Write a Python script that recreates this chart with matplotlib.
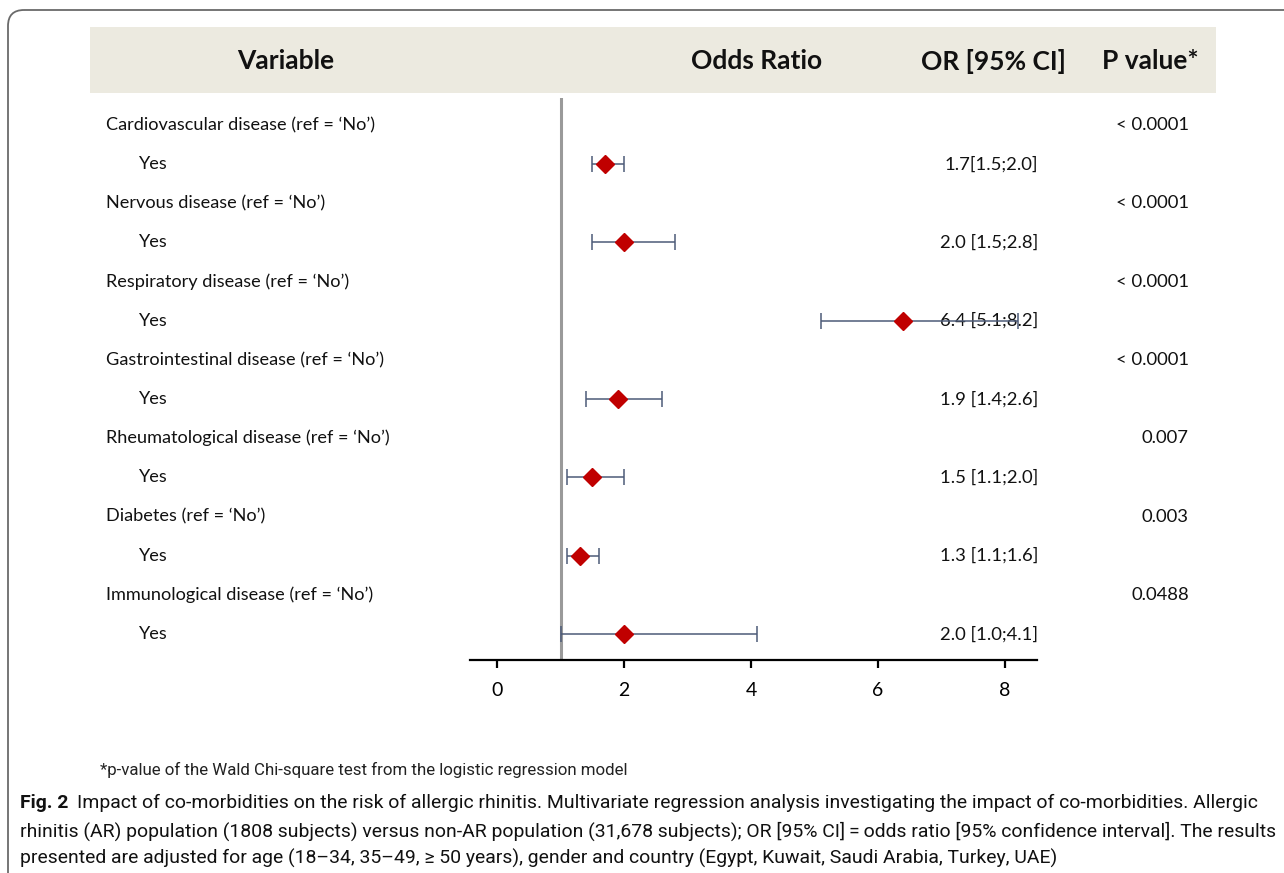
import matplotlib
matplotlib.use("Agg")
import matplotlib.pyplot as plt
from matplotlib.patches import FancyBboxPatch, Rectangle

# Multivariate logistic regression: co-morbidities vs allergic rhinitis
variables = [
    "Cardiovascular disease (ref = \u2018No\u2019)",
    "Nervous disease (ref = \u2018No\u2019)",
    "Respiratory disease (ref = \u2018No\u2019)",
    "Gastrointestinal disease (ref = \u2018No\u2019)",
    "Rheumatological disease (ref = \u2018No\u2019)",
    "Diabetes (ref = \u2018No\u2019)",
    "Immunological disease (ref = \u2018No\u2019)",
]
odds_ratio = [1.7, 2.0, 6.4, 1.9, 1.5, 1.3, 2.0]
ci_low = [1.5, 1.5, 5.1, 1.4, 1.1, 1.1, 1.0]
ci_high = [2.0, 2.8, 8.2, 2.6, 2.0, 1.6, 4.1]
ci_sep = ["", " ", " ", " ", " ", " ", " "]
p_values = ["< 0.0001", "< 0.0001", "< 0.0001", "< 0.0001", "0.007", "0.003", "0.0488"]
x_ticks = [0, 2, 4, 6, 8]
headers = ["Variable", "Odds Ratio", "OR [95% CI]", "P value*"]

footnote = "*p-value of the Wald Chi-square test from the logistic regression model"
fig_label = "Fig. 2"
caption_lines = [
    "Impact of co-morbidities on the risk of allergic rhinitis. Multivariate regression analysis investigating the impact of co-morbidities. Allergic",
    "rhinitis (AR) population (1808 subjects) versus non-AR population (31,678 subjects); OR [95% CI]\u2009=\u2009odds ratio [95% confidence interval]. The results",
    "presented are adjusted for age (18\u201334, 35\u201349, \u2265 50 years), gender and country (Egypt, Kuwait, Saudi Arabia, Turkey, UAE)",
]

W, H = 1284, 873
TABLE_FONT = ["Lato", "DejaVu Sans"]
CAPTION_FONT = ["Roboto", "DejaVu Sans"]
row_y0, row_step = 125, 39.15
TXT = "#111111"

fig = plt.figure(figsize=(W / 100, H / 100), dpi=100)
fig.patch.set_facecolor("white")
renderer = fig.canvas.get_renderer()

# background axes in pixel units for text and decorations
bg = fig.add_axes([0, 0, 1, 1])
bg.set_xlim(0, W)
bg.set_ylim(H, 0)
bg.axis("off")


def text_width(t):
    return t.get_window_extent(renderer).width


bg.add_patch(FancyBboxPatch((8, 10), 1400, 1000, boxstyle="round,pad=0,rounding_size=16",
                            fc="none", ec="#6a6a6a", lw=1.3))
bg.add_patch(Rectangle((90, 27), 1126, 66, fc="#ECEAE0", ec="none"))

header_x = [286, 757, 993, 1150]
for hx, h in zip(header_x, headers):
    bg.text(hx, 61, h, ha="center", va="center", fontsize=19, fontweight="bold",
            family=TABLE_FONT, color=TXT)

for i, name in enumerate(variables):
    y_cat = row_y0 + row_step * (2 * i)
    y_yes = row_y0 + row_step * (2 * i + 1)
    bg.text(106, y_cat, name, ha="left", va="center", fontsize=13.1, family=TABLE_FONT, color=TXT)
    bg.text(1189, y_cat, p_values[i], ha="right", va="center", fontsize=13.3, family=TABLE_FONT, color=TXT)
    bg.text(138, y_yes, "Yes", ha="left", va="center", fontsize=13.1, family=TABLE_FONT, color=TXT)
    ci_text = f"{odds_ratio[i]:.1f}{ci_sep[i]}[{ci_low[i]:.1f};{ci_high[i]:.1f}]"
    bg.text(1038, y_yes, ci_text, ha="right", va="center", fontsize=13.3, family=TABLE_FONT,
            color=TXT, zorder=5)

# footnote: sized to its printed width
fn = bg.text(100, 770, footnote, ha="left", va="center", fontsize=11, family=CAPTION_FONT, color="#222222")
fn.set_fontsize(11 * 529 / text_width(fn))

# caption: one size for all lines, set from the widest line
cap_left = 20
probe = bg.text(cap_left, 831, caption_lines[1], ha="left", va="center", fontsize=12,
                family=CAPTION_FONT, color=TXT)
cap_size = 12 * (1272 - cap_left) / text_width(probe)
probe.set_fontsize(cap_size)
lab = bg.text(cap_left, 803, fig_label, ha="left", va="center", fontsize=cap_size,
              fontweight="bold", family=CAPTION_FONT, color=TXT)
bg.text(cap_left + text_width(lab) + 9, 803, caption_lines[0], ha="left", va="center",
        fontsize=cap_size, family=CAPTION_FONT, color=TXT)
bg.text(cap_left, 858, caption_lines[2], ha="left", va="center", fontsize=cap_size,
        family=CAPTION_FONT, color=TXT)

# forest plot axes
ax_left, ax_right, ax_top, ax_bottom = 470, 1037, 98, 660
ax = fig.add_axes([ax_left / W, 1 - ax_bottom / H, (ax_right - ax_left) / W, (ax_bottom - ax_top) / H])
ax.patch.set_alpha(0)
px_per_unit = 63.5
x_zero = 497
ax.set_xlim((ax_left - x_zero) / px_per_unit, (ax_right - x_zero) / px_per_unit)
ax.set_ylim(ax_bottom, ax_top)

ax.axvline(1, color="#9a9a9a", lw=2.2, zorder=1)

yes_rows = [row_y0 + row_step * (2 * i + 1) for i in range(len(variables))]
xerr = [[o - l for o, l in zip(odds_ratio, ci_low)], [h - o for o, h in zip(odds_ratio, ci_high)]]
ax.errorbar(odds_ratio, yes_rows, xerr=xerr, fmt="none", ecolor="#4d5b78", elinewidth=1.1,
            capsize=6, capthick=1.1, zorder=2)
ax.plot(odds_ratio, yes_rows, "D", color="#C00000", markersize=9.5, zorder=3)

for side in ["top", "right", "left"]:
    ax.spines[side].set_visible(False)
ax.spines["bottom"].set_linewidth(1.6)
ax.set_yticks([])
ax.set_xticks(x_ticks)
ax.tick_params(axis="x", direction="out", length=6, width=1.6, pad=10, labelsize=14)
for lbl in ax.get_xticklabels():
    lbl.set_family(TABLE_FONT)

fig.savefig("out.png", dpi=100)
